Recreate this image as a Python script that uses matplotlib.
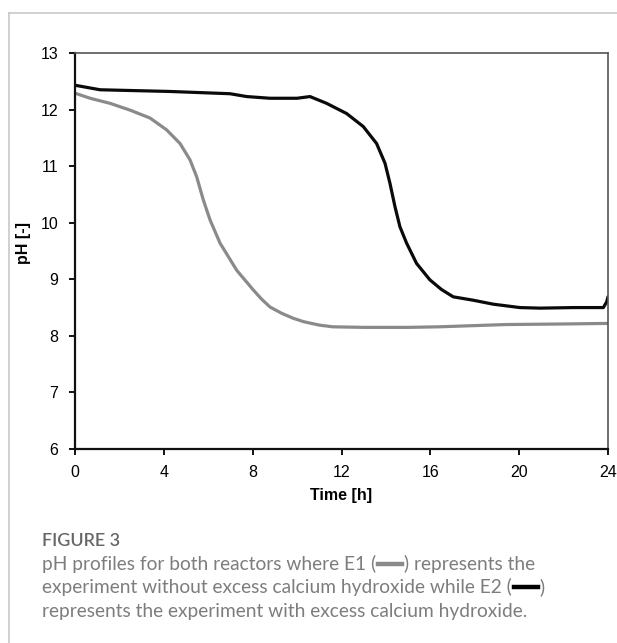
import matplotlib
matplotlib.use("Agg")
import matplotlib.pyplot as plt
from matplotlib.lines import Line2D

# E1: without excess Ca(OH)2 (grey), E2: with excess Ca(OH)2 (black)
time_e1 = [0, 0.68, 1.58, 2.48, 3.38, 4.13, 4.73, 5.18, 5.48, 5.78, 6.08, 6.53, 7.28,
           8.03, 8.4, 8.78, 9.3, 9.83, 10.3, 11.0, 11.6, 13, 15, 16.4, 19.4, 22, 24]
ph_e1 = [12.29, 12.2, 12.11, 11.99, 11.85, 11.64, 11.4, 11.11, 10.81, 10.4, 10.05,
         9.64, 9.16, 8.81, 8.65, 8.51, 8.4, 8.31, 8.25, 8.19, 8.16, 8.15, 8.15, 8.16,
         8.2, 8.21, 8.22]

time_e2 = [0, 1.13, 4.28, 6.98, 7.73, 8.78, 10.0, 10.58, 11.33, 12.23, 12.98, 13.58,
           13.96, 14.18, 14.41, 14.63, 14.93, 15.38, 15.98, 16.5, 17.03, 17.93, 18.83,
           20.03, 20.94, 22.44, 23.79, 23.94, 24.0]
ph_e2 = [12.43, 12.35, 12.32, 12.28, 12.23, 12.2, 12.2, 12.23, 12.11, 11.93, 11.7,
         11.4, 11.05, 10.7, 10.28, 9.93, 9.64, 9.28, 8.99, 8.82, 8.69, 8.63, 8.56,
         8.5, 8.49, 8.5, 8.5, 8.6, 8.69]

x_ticks = [0, 4, 8, 12, 16, 20, 24]
y_ticks = [6, 7, 8, 9, 10, 11, 12, 13]

W, H = 617, 643
fig = plt.figure(figsize=(W / 100, H / 100), dpi=100)
plt.rcParams['font.family'] = ['Liberation Sans', 'DejaVu Sans']

ax = fig.add_axes([75 / W, (H - 449) / H, 533 / W, 396 / H])
ax.plot(time_e1, ph_e1, color='#8a8a8a', lw=2.3, solid_capstyle='round')
ax.plot(time_e2, ph_e2, color='#0a0a0a', lw=2.3, solid_capstyle='round')

ax.set_xlim(0, 24)
ax.set_ylim(6, 13)
ax.set_xticks(x_ticks)
ax.set_yticks(y_ticks)
ax.tick_params(axis='x', direction='out', length=4, width=1.3, pad=7.5, labelsize=11.5)
ax.tick_params(axis='y', direction='out', length=4.5, width=1.3, pad=7.5, labelsize=11.5)
for s in ['left', 'bottom']:
    ax.spines[s].set_color('#111111')
    ax.spines[s].set_linewidth(1.6)
for s in ['top', 'right']:
    ax.spines[s].set_color('#555555')
    ax.spines[s].set_linewidth(1.2)

ax.set_xlabel('Time [h]', fontsize=11.5, fontweight='bold', labelpad=6)
ax.set_ylabel('pH [-]', fontsize=11.5, fontweight='bold')
ax.yaxis.set_label_coords((31 - 75) / 533, 0.52)

# card border
fig.add_artist(Line2D([9 / W, 9 / W], [0, 1 - 13 / H], color='#c8c8c8', lw=1.2))
fig.add_artist(Line2D([9 / W, 1], [1 - 13 / H, 1 - 13 / H], color='#c8c8c8', lw=1.2))

# caption
cap_font = ['Lato', 'DejaVu Sans']
cap_col = '#7d7d7d'
cap_size = 13.8
fig.text(42 / W, 1 - 546 / H, 'FIGURE 3', fontsize=13, color='#666666',
         fontweight='semibold', family=cap_font, va='baseline')

fig.canvas.draw()
rend = fig.canvas.get_renderer()


def bar_after(txt, y_px, color):
    bb = txt.get_window_extent(rend)
    x0 = bb.x1 + 2
    fig.add_artist(Line2D([x0 / W, (x0 + 24) / W], [1 - y_px / H, 1 - y_px / H],
                          color=color, lw=3.2))
    return x0 + 26


base1, base2, base3 = 570, 593, 617
t = fig.text(42 / W, 1 - base1 / H, 'pH profiles for both reactors where E1 (',
             fontsize=cap_size, color=cap_col, family=cap_font, va='baseline')
nx = bar_after(t, base1 - 6, '#8a8a8a')
fig.text(nx / W, 1 - base1 / H, ') represents the', fontsize=cap_size, color=cap_col,
         family=cap_font, va='baseline')

t = fig.text(42 / W, 1 - base2 / H, 'experiment without excess calcium hydroxide while E2 (',
             fontsize=cap_size, color=cap_col, family=cap_font, va='baseline')
nx = bar_after(t, base2 - 6, '#000000')
fig.text(nx / W, 1 - base2 / H, ')', fontsize=cap_size, color=cap_col,
         family=cap_font, va='baseline')

fig.text(42 / W, 1 - base3 / H, 'represents the experiment with excess calcium hydroxide.',
         fontsize=cap_size, color=cap_col, family=cap_font, va='baseline')

fig.savefig('out.png', dpi=100)
